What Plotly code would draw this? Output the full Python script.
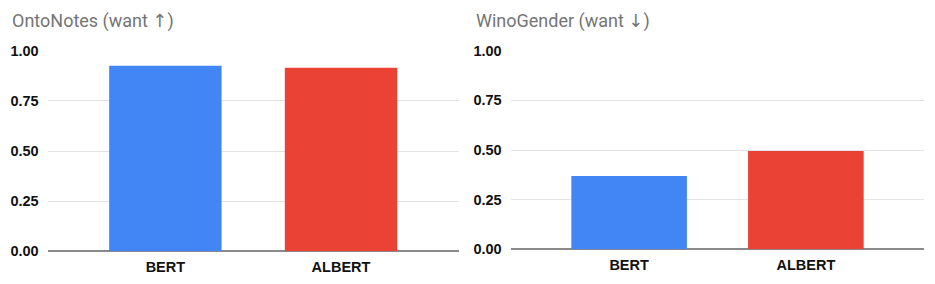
import plotly.graph_objects as go

models = ["BERT", "ALBERT"]
ontonotes = [0.925, 0.915]
winogender = [0.369, 0.495]
colors = ["#4285F4", "#EA4335"]
titles = ["OntoNotes (want ↑)", "WinoGender (want ↓)"]
yticks = [0, 0.25, 0.5, 0.75, 1.0]
ytick_text = ["0.00", "0.25", "0.50", "0.75", "1.00"]

W, H = 935, 284
fig = go.Figure()

fig.add_trace(go.Bar(x=models, y=ontonotes, marker=dict(color=colors, line=dict(width=0)),
                     width=0.64, xaxis="x", yaxis="y", showlegend=False))
fig.add_trace(go.Bar(x=models, y=winogender, marker=dict(color=colors, line=dict(width=0)),
                     width=0.654, xaxis="x2", yaxis="y2", showlegend=False))

tickfont = dict(family="Liberation Sans, Arial", size=14.5, color="#111111", weight="bold")
common_x = dict(type="category", range=[-0.67, 1.67], showgrid=False, zeroline=False,
                showline=False, tickfont=tickfont, ticks="", automargin=False,
                ticklabelstandoff=5)
common_y = dict(range=[0, 1], tickvals=yticks, ticktext=ytick_text, showgrid=True,
                gridcolor="#e3e3e3", gridwidth=1, zeroline=True, zerolinecolor="#8a8a8a",
                zerolinewidth=1.5, tickfont=tickfont, ticks="", ticklabelstandoff=8,
                automargin=False)

fig.update_layout(
    width=W, height=H,
    margin=dict(l=0, r=0, t=0, b=0),
    plot_bgcolor="white", paper_bgcolor="white",
    bargap=0.36,
    xaxis=dict(domain=[47.7 / W, 458.7 / W], anchor="y", **common_x),
    yaxis=dict(domain=[1 - 251.3 / H, 1 - 50.7 / H], anchor="x", **common_y),
    xaxis2=dict(domain=[510.7 / W, 924.3 / W], anchor="y2", **common_x),
    yaxis2=dict(domain=[1 - 249.3 / H, 1 - 50.7 / H], anchor="x2", **common_y),
)

for xpix, t in zip([10, 474], titles):
    fig.add_annotation(text=t, xref="paper", yref="paper", x=xpix / W, y=1 - 21 / H,
                       xanchor="left", yanchor="middle", showarrow=False,
                       font=dict(family="Roboto, DejaVu Sans", size=18, color="#757575"))

fig.write_html("out.html")
